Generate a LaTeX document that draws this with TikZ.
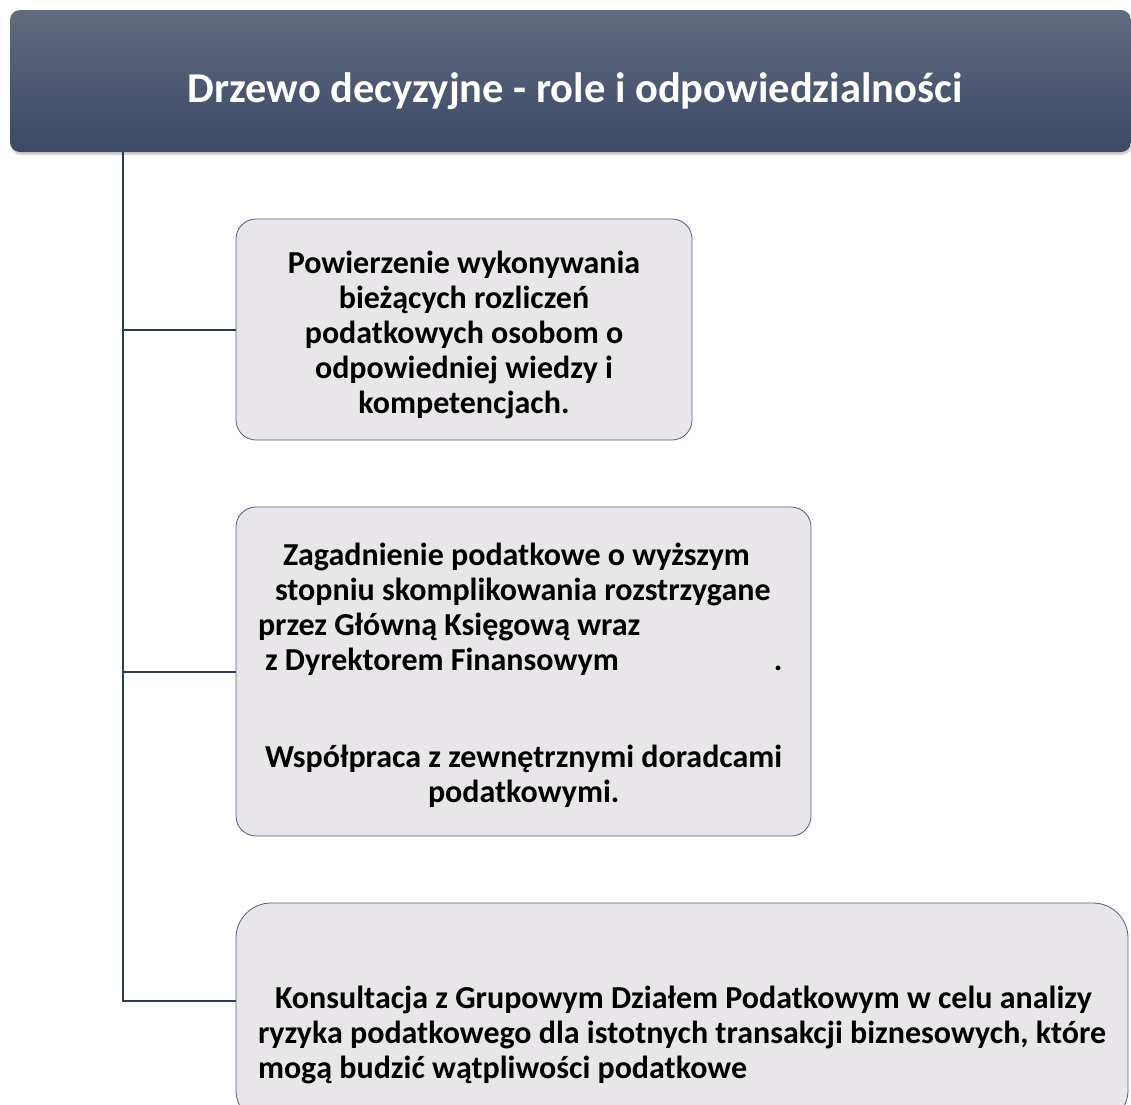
\documentclass[tikz,border=0pt]{standalone}
\usepackage{fontspec}
\setmainfont{Carlito}
\usetikzlibrary{shadows}
\definecolor{headtop}{HTML}{606B7F}
\definecolor{headbot}{HTML}{3B4965}
\definecolor{trunkc}{HTML}{2F3B51}
\definecolor{boxfill}{HTML}{E8E6E8}
\definecolor{boxline}{HTML}{4E5F7F}
\begin{document}
\begin{tikzpicture}[x=1pt,y=-1pt,
    headbox/.style={rounded corners=10pt, top color=headtop, bottom color=headbot,
      minimum width=1121pt, minimum height=142pt, text=white,
      text height=42pt, text depth=0pt,
      font=\fontsize{42.5}{50}\selectfont\bfseries,
      drop shadow={shadow xshift=1pt, shadow yshift=-3pt, opacity=0.35}},
    rolebox/.style={rounded corners=20pt, fill=boxfill, draw=boxline, line width=0.8pt,
      inner xsep=22pt, text height=22pt, font=\fontsize{32}{35}\selectfont\bfseries},
    trunk/.style={trunkc, line width=2pt}]
  \useasboundingbox (0,0) rectangle (1131,1104);
  \clip (0,0) rectangle (1131,1104);
  \node[headbox] (head) at (570.5,81) {\hspace*{9pt}Drzewo decyzyjne - role i odpowiedzialności};
  \node[rolebox, align=flush center, text width=412pt, text depth=135pt, minimum height=221pt] (rola1) at (464,329.5)
    {Powierzenie wykonywania\\bieżących rozliczeń\\podatkowych osobom o\\odpowiedniej wiedzy i\\kompetencjach.};
  \node[rolebox, align=flush left, text width=531pt, text depth=235pt, minimum height=329pt] (rola2) at (523.5,671.5)
    {\hspace*{25pt}Zagadnienie podatkowe o wyższym\\
     \hspace*{17pt}stopniu skomplikowania rozstrzygane\\
     przez Główną Księgową wraz\\
     \hspace*{7pt}z Dyrektorem Finansowym\hspace*{155pt}.\\[62pt]
     \hspace*{7pt}Współpraca z zewnętrznymi doradcami\\
     \hspace*{170pt}podatkowymi.};
  \node[rolebox, rounded corners=35pt, align=flush left, text width=848pt, text depth=34pt, minimum height=222pt] (rola3) at (682,1014)
    {\hspace*{17pt}Konsultacja z Grupowym Działem Podatkowym w celu analizy\\
     ryzyka podatkowego dla istotnych transakcji biznesowych, które\\
     mogą budzić wątpliwości podatkowe};
  \coordinate (root) at (123,152);
  \coordinate (tip) at (236,1001);
  \draw[trunk] (root) |- (tip);
  \draw[trunk] (root |- rola1.west) -- (rola1.west);
  \draw[trunk] (root |- rola2.west) -- (rola2.west);
\end{tikzpicture}
\end{document}
